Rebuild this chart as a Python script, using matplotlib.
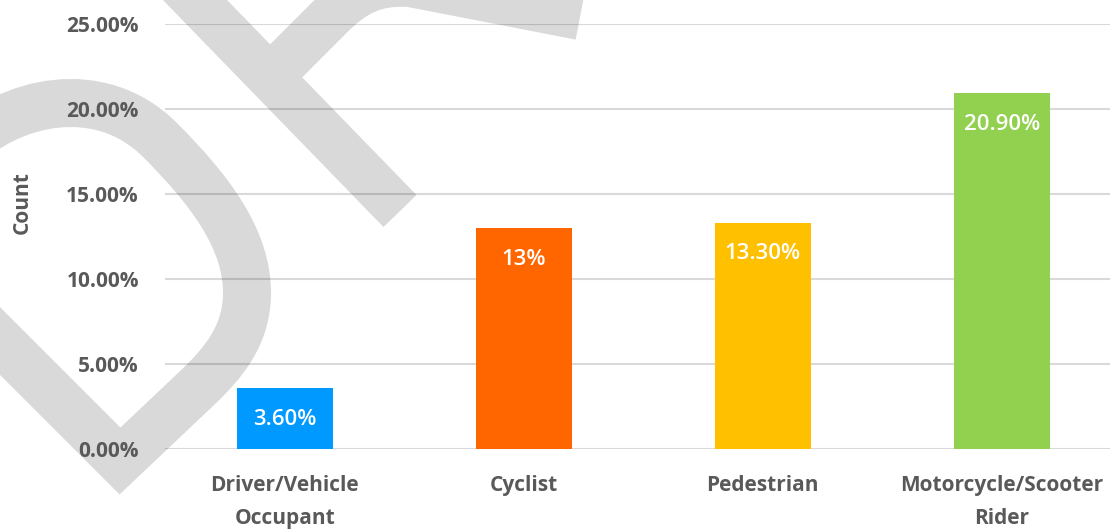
import matplotlib
matplotlib.use("Agg")
import matplotlib.pyplot as plt
from matplotlib.path import Path
from matplotlib.patches import PathPatch
from matplotlib.ticker import FuncFormatter

# data
categories = ["Driver/Vehicle\nOccupant", "Cyclist", "Pedestrian", "Motorcycle/Scooter\nRider"]
values = [3.6, 13.0, 13.3, 20.9]
value_labels = ["3.60%", "13%", "13.30%", "20.90%"]
colors = ["#0099FF", "#FF6600", "#FFC000", "#92D050"]
yticks = [0, 5, 10, 15, 20, 25]

plt.rcParams['font.family'] = ['Open Sans', 'DejaVu Sans']
txt_color = "#595959"

fig = plt.figure(figsize=(11.10, 5.31), dpi=100)

# watermark in the background, pixel coordinates
bg = fig.add_axes([0, 0, 1, 1], zorder=0)
bg.set_xlim(0, 1110)
bg.set_ylim(531, 0)
bg.axis("off")
wm = "#d9d9d9"
# tiny non-zero face so agg does not clip the stroke at the canvas edge
ghost = (1, 1, 1, 0.002)

M, C, L = Path.MOVETO, Path.CURVE4, Path.LINETO


def stroke(verts, codes, width_px, join):
    bg.add_patch(PathPatch(Path(verts, codes), fc=ghost, ec=wm,
                           lw=width_px * 0.72, joinstyle=join, capstyle="butt"))


d_verts = [(-40, 150), (10, 100), (100, 80), (160, 140),
           (210, 190), (248, 240), (247, 295),
           (246, 335), (225, 362), (195, 390),
           (120, 461), (-40, 301)]
d_codes = [M, C, C, C, C, C, C, C, C, C, L, L]
stroke(d_verts, d_codes, 48, "miter")

stroke([(160, -36), (400, 211)], [M, L], 46, "miter")

f_verts = [(262, 85), (330, 17), (355, -8), (375, -18), (410, -16), (580, 17)]
f_codes = [M, L, C, C, C, L]
stroke(f_verts, f_codes, 46, "round")

# main chart
ax = fig.add_axes([0.1489, 0.1544, 0.8613, 0.801], zorder=1)
ax.set_facecolor("none")
x = range(len(categories))
bars = ax.bar(x, values, width=0.4, color=colors, zorder=3)

for b, lab in zip(bars, value_labels):
    ax.annotate(lab, (b.get_x() + b.get_width() / 2, b.get_height()),
                xytext=(0, -22.5), textcoords="offset points",
                ha="center", va="center", color="white",
                fontsize=16, fontweight="semibold", zorder=4)

ax.set_xlim(-0.5, 3.5)
ax.set_ylim(0, 25)
ax.set_yticks(yticks)
ax.yaxis.set_major_formatter(FuncFormatter(lambda v, p: "{:.2f}%".format(v)))
ax.set_xticks(list(x))
ax.set_xticklabels(categories, linespacing=1.7)
ax.grid(axis="y", color="black", alpha=0.15, lw=1.5, zorder=0)
ax.set_axisbelow(True)
for s in ax.spines.values():
    s.set_visible(False)
ax.tick_params(axis="y", length=0, pad=19, labelsize=15, labelcolor=txt_color)
ax.tick_params(axis="x", length=0, pad=19, labelsize=15, labelcolor=txt_color)
for t in ax.get_xticklabels() + ax.get_yticklabels():
    t.set_fontweight("bold")

fig.text(22 / 1110, 1 - 203 / 531, "Count", rotation=90, ha="center", va="center",
         fontsize=15, fontweight="bold", color=txt_color)

fig.savefig("out.png", dpi=100)
